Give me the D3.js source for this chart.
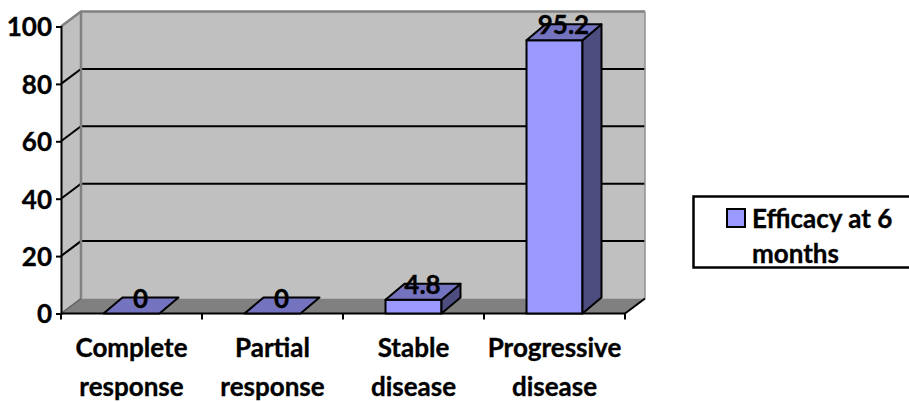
<!DOCTYPE html>
<html>
<head>
<meta charset="utf-8">
<script src="https://cdn.jsdelivr.net/npm/d3@7"></script>
<style>
  body { margin: 0; background: #fff; }
  svg { display: block; }
  text { font-family: Lato, "Open Sans", sans-serif; font-weight: 700; fill: #000; stroke: #000; stroke-width: 0.35px; }
</style>
</head>
<body>
<svg id="chart" width="909" height="402"></svg>
<script>
// chart data
var categories = ["Complete response", "Partial response", "Stable disease", "Progressive disease"];
var efficacy = [0, 0, 4.8, 95.2];
var yTicks = [0, 20, 40, 60, 80, 100];
var seriesName = ["Efficacy at 6", "months"];

var svg = d3.select("#chart");

// front plane of the fake 3d box, the back wall is this shifted by depth
var depth = {x: 20, y: -15},
    barDepth = {x: 19, y: -16},
    fontSize = 26;

var x = d3.scaleBand()
    .domain(categories)
    .range([61, 625])
    .paddingInner(0.603)
    .paddingOuter(0.3015);

var y = d3.scaleLinear()
    .domain([0, 100])
    .range([313.5, 26.5]);

var left = x.range()[0], right = x.range()[1];
var y0 = y(0), y100 = y(100);

function poly(points) {
    return points.map(function(p) { return p.join(","); }).join(" ");
}

// side wall, back wall and floor
svg.append("polygon")
    .attr("points", poly([[left, y0], [left, y100], [left + depth.x, y100 + depth.y], [left + depth.x, y0 + depth.y]]))
    .attr("fill", "#c0c0c0");

svg.append("rect")
    .attr("x", left + depth.x)
    .attr("y", y100 + depth.y)
    .attr("width", right - left)
    .attr("height", y0 - y100)
    .attr("fill", "#c0c0c0");

svg.append("polygon")
    .attr("points", poly([[left, y0], [left + depth.x, y0 + depth.y], [right + depth.x, y0 + depth.y], [right, y0]]))
    .attr("fill", "#808080");

// gridlines run around the side wall and the back wall
var grid = yTicks.filter(function(d) { return d > 0 && d < 100; });

svg.selectAll(".grid")
    .data(grid)
  .enter().append("polyline")
    .attr("class", "grid")
    .attr("fill", "none")
    .attr("stroke", "#000")
    .attr("stroke-width", 2)
    .attr("points", function(d) {
        return poly([[left, y(d)], [left + depth.x, y(d) + depth.y], [right + depth.x, y(d) + depth.y]]);
    });

// grey frame edges
svg.append("polyline")
    .attr("fill", "none")
    .attr("stroke", "#808080")
    .attr("stroke-width", 2.5)
    .attr("points", poly([[left, y100], [left + depth.x, y100 + depth.y], [right + depth.x, y100 + depth.y]]));

svg.append("line")
    .attr("x1", left + depth.x).attr("x2", left + depth.x)
    .attr("y1", y100 + depth.y).attr("y2", y0 + depth.y)
    .attr("stroke", "#808080")
    .attr("stroke-width", 2.5);

svg.append("line")
    .attr("x1", right + depth.x).attr("x2", right + depth.x)
    .attr("y1", y100 + depth.y).attr("y2", y0 + depth.y)
    .attr("stroke", "#909090")
    .attr("stroke-width", 1.5);

svg.append("line")
    .attr("x1", left).attr("x2", left + depth.x)
    .attr("y1", y0).attr("y2", y0 + depth.y)
    .attr("stroke", "#606060")
    .attr("stroke-width", 1.5);

svg.append("line")
    .attr("x1", right).attr("x2", right + depth.x)
    .attr("y1", y0).attr("y2", y0 + depth.y)
    .attr("stroke", "#000")
    .attr("stroke-width", 2);

// y axis
svg.append("g")
    .attr("transform", "translate(" + left + ",0)")
    .call(d3.axisLeft(y).tickValues(yTicks).tickSize(5).tickPadding(4))
    .call(function(g) {
        g.selectAll("path, line").attr("stroke", "#000").attr("stroke-width", 2);
        g.selectAll("text")
            .attr("font-size", fontSize)
            .style("font-family", "Lato")
            .attr("dy", "0.36em");
    });

// x axis, ticks sit between the categories
var step = x.step();
var xBreaks = d3.range(categories.length + 1).map(function(i) { return left + i * step; });

svg.append("line")
    .attr("x1", left).attr("x2", right)
    .attr("y1", y0).attr("y2", y0)
    .attr("stroke", "#000")
    .attr("stroke-width", 2);

svg.selectAll(".xtick")
    .data(xBreaks)
  .enter().append("line")
    .attr("class", "xtick")
    .attr("x1", function(d) { return d; })
    .attr("x2", function(d) { return d; })
    .attr("y1", y0)
    .attr("y2", y0 + 6)
    .attr("stroke", "#000")
    .attr("stroke-width", 2);

// bars: front, top and side faces
var data = categories.map(function(c, i) { return {name: c, value: efficacy[i]}; });
var bw = x.bandwidth();

var bars = svg.selectAll(".bar")
    .data(data)
  .enter().append("g")
    .attr("class", "bar")
    .attr("stroke", "#000")
    .attr("stroke-width", 2)
    .attr("stroke-linejoin", "round");

bars.filter(function(d) { return d.value > 0; }).append("rect")
    .attr("x", function(d) { return x(d.name); })
    .attr("y", function(d) { return y(d.value); })
    .attr("width", bw)
    .attr("height", function(d) { return y0 - y(d.value); })
    .attr("fill", "#9999ff");

bars.filter(function(d) { return d.value > 0; }).append("polygon")
    .attr("fill", "#4d4d80")
    .attr("points", function(d) {
        var bx = x(d.name) + bw, ty = y(d.value);
        return poly([[bx, ty], [bx + barDepth.x, ty + barDepth.y], [bx + barDepth.x, y0 + barDepth.y], [bx, y0]]);
    });

bars.append("polygon")
    .attr("fill", "#7373bf")
    .attr("points", function(d) {
        var bx = x(d.name), ty = y(d.value);
        return poly([[bx, ty], [bx + barDepth.x, ty + barDepth.y], [bx + bw + barDepth.x, ty + barDepth.y], [bx + bw, ty]]);
    });

// value labels
svg.selectAll(".value")
    .data(data)
  .enter().append("text")
    .attr("class", "value")
    .attr("x", function(d) { return x(d.name) + bw / 2 + 9; })
    .attr("y", function(d) { return y(d.value) - 6; })
    .attr("text-anchor", "middle")
    .attr("font-size", fontSize)
    .text(function(d) { return d.value; });

// category labels, two lines each
var labels = svg.selectAll(".cat")
    .data(categories)
  .enter().append("text")
    .attr("class", "cat")
    .attr("text-anchor", "middle")
    .attr("font-size", fontSize);

labels.selectAll("tspan")
    .data(function(d) { return d.split(" ").map(function(w) { return {word: w, cat: d}; }); })
  .enter().append("tspan")
    .attr("x", function(d) { return x(d.cat) + bw / 2; })
    .attr("y", function(d, i) { return 357 + i * 39; })
    .text(function(d) { return d.word; });

// legend
var legend = svg.append("g");

legend.append("rect")
    .attr("x", 693.5).attr("y", 196.5)
    .attr("width", 230).attr("height", 71)
    .attr("fill", "#fff")
    .attr("stroke", "#000")
    .attr("stroke-width", 2.5);

legend.append("rect")
    .attr("x", 727).attr("y", 209)
    .attr("width", 18).attr("height", 18)
    .attr("fill", "#9999ff")
    .attr("stroke", "#000")
    .attr("stroke-width", 2);

legend.selectAll(".legend-text")
    .data(seriesName)
  .enter().append("text")
    .attr("class", "legend-text")
    .attr("x", 752)
    .attr("y", function(d, i) { return 228 + i * 35; })
    .attr("font-size", fontSize)
    .text(function(d) { return d; });
</script>
</body>
</html>
